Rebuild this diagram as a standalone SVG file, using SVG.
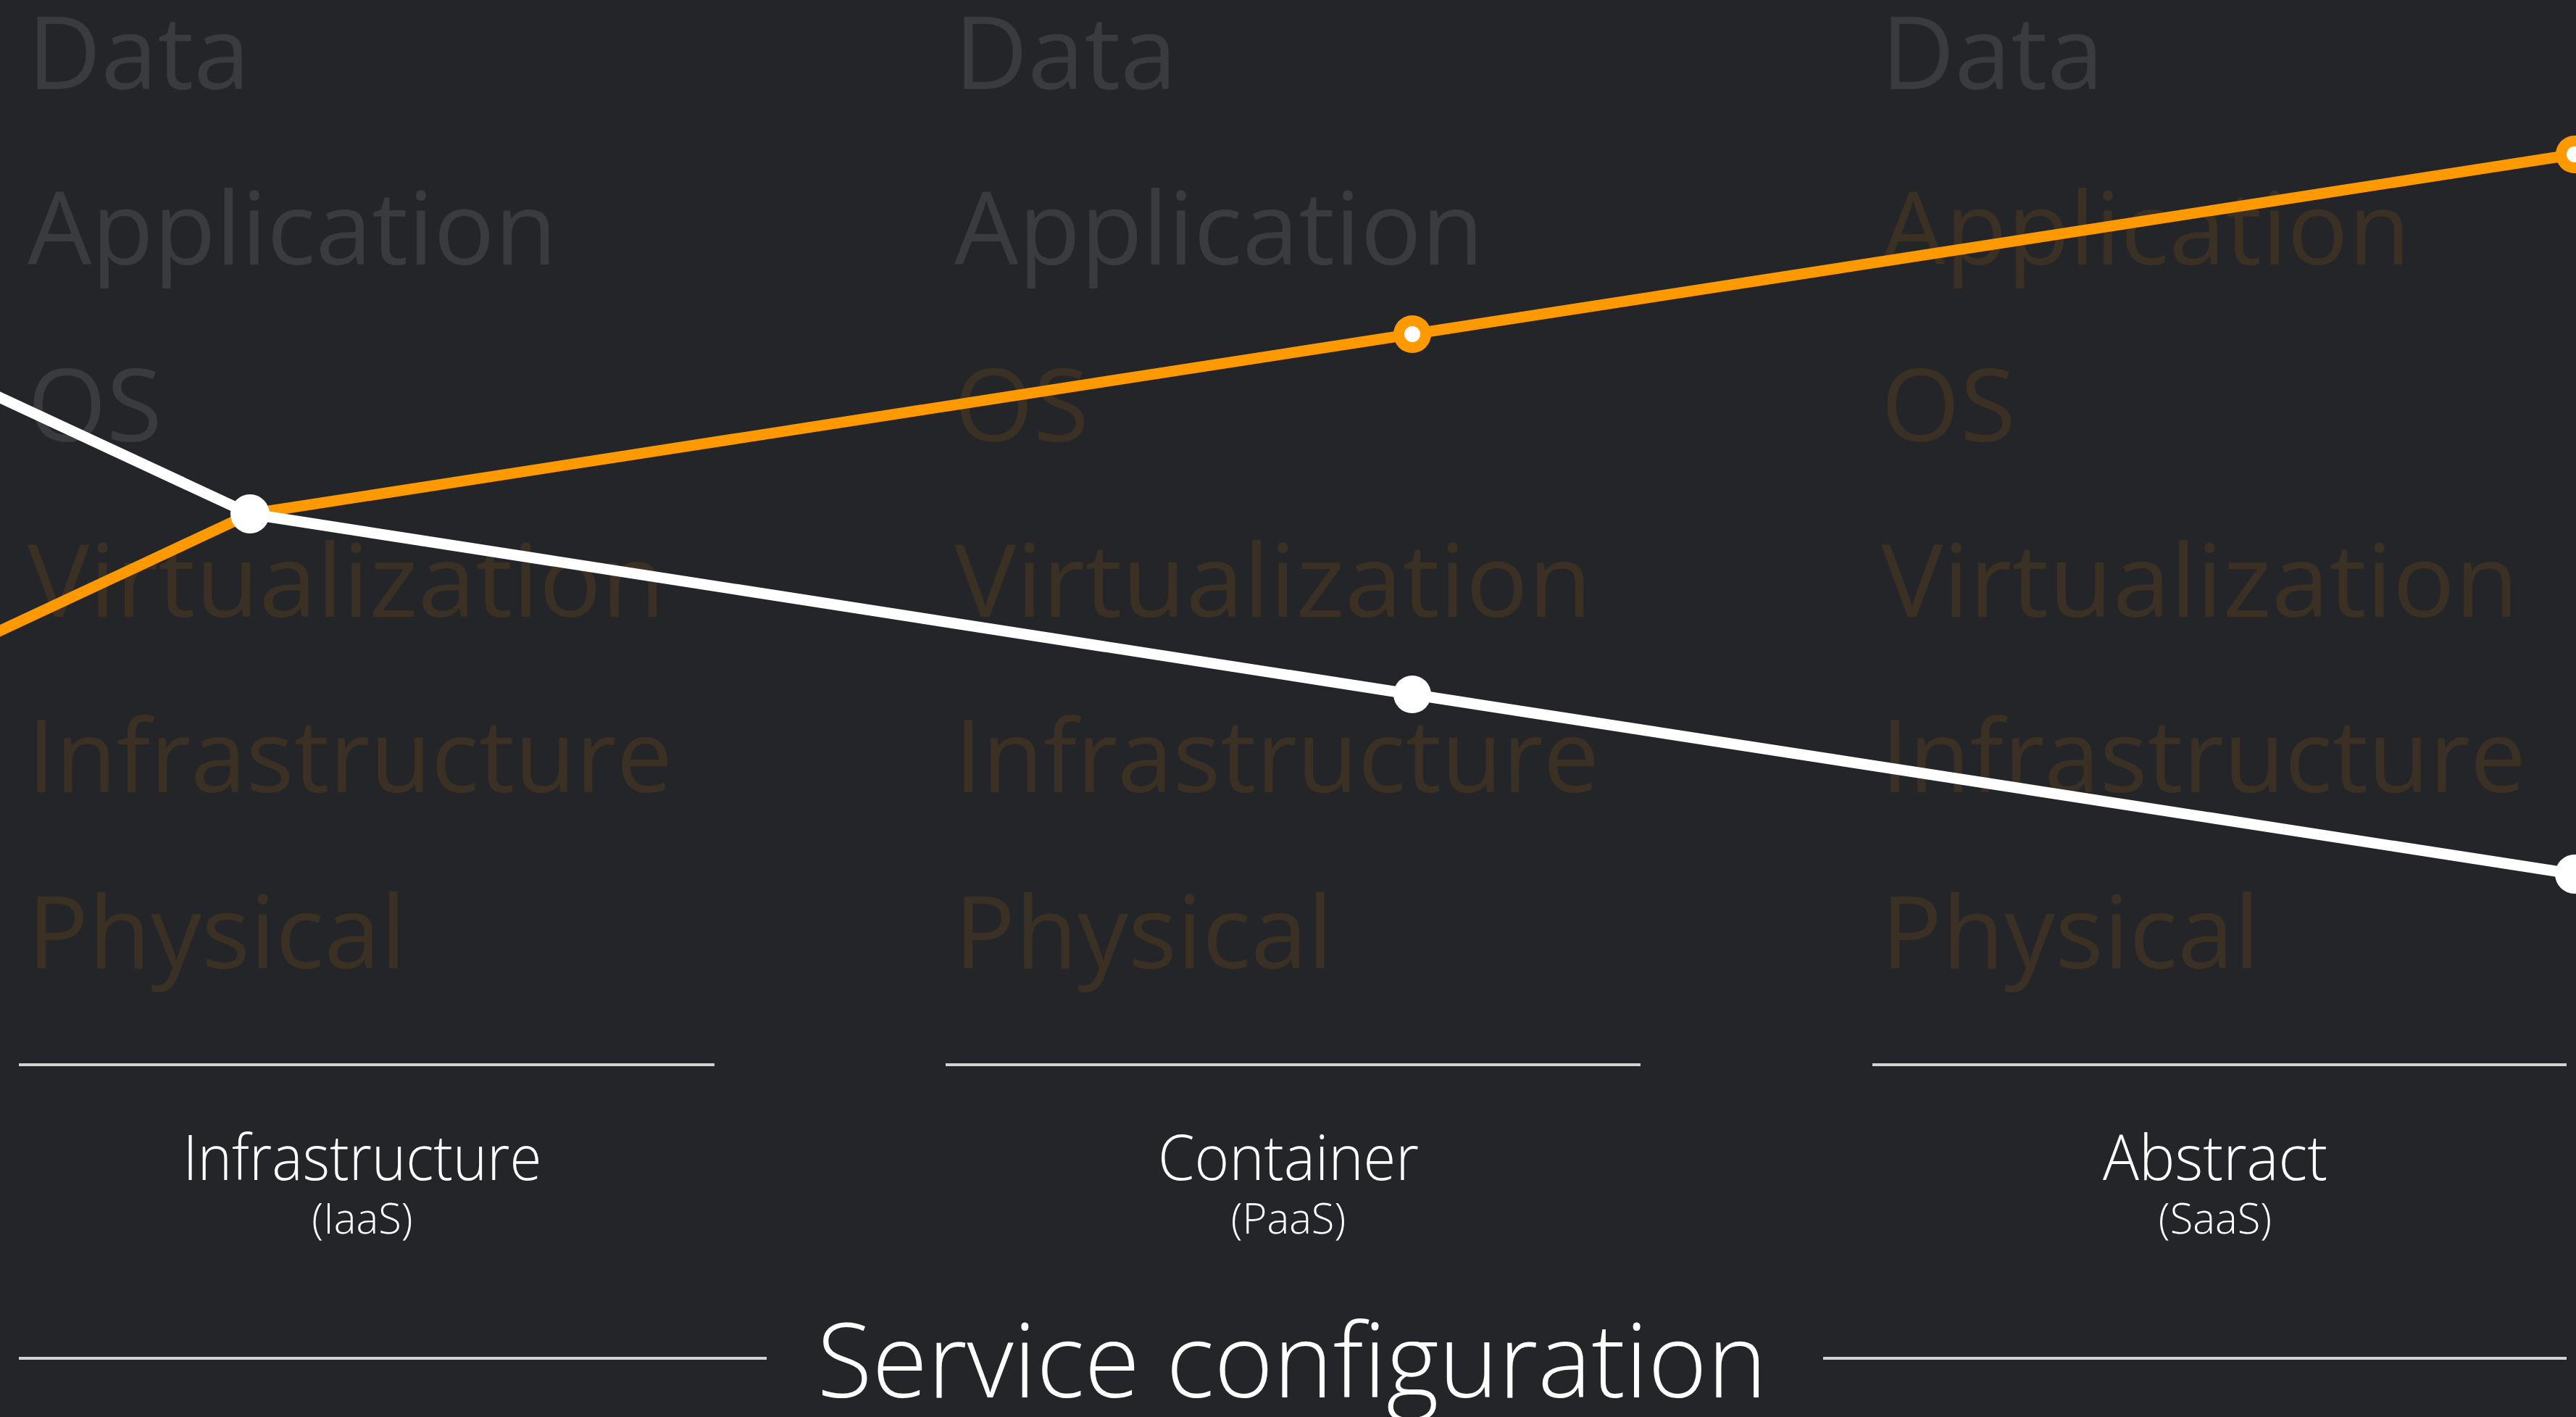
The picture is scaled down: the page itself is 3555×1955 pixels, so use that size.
<svg xmlns="http://www.w3.org/2000/svg" width="3555" height="1955" viewBox="0 0 3555 1955">
<style>
.bg{fill:#242528}
.layer{font-family:"Open Sans","Noto Sans",sans-serif;font-size:140px}
.g{fill:#3a3b3e}
.b{fill:#3b3024}
.rule{stroke:#d2d2d2;stroke-width:4}
.lbl{font-family:"Open Sans","Noto Sans",sans-serif;font-weight:300;fill:#ffffff;text-anchor:middle}
.main{font-size:86px}
.sub{font-size:58px}
.title{font-size:142px}
.wline{fill:none;stroke:#ffffff;stroke-width:15;stroke-linejoin:round}
.oline{fill:none;stroke:#ff9900;stroke-width:15;stroke-linejoin:round}
</style>
<rect class="bg" x="0" y="0" width="3555" height="1955"/>

<g id="col-iaas">
  <text class="layer g" x="38" y="123">Data</text>
  <text class="layer g" x="38" y="365">Application</text>
  <text class="layer g" x="38" y="609">OS</text>
  <text class="layer b" x="38" y="851" textLength="880" lengthAdjust="spacingAndGlyphs">Virtualization</text>
  <text class="layer b" x="38" y="1093" textLength="890" lengthAdjust="spacingAndGlyphs">Infrastructure</text>
  <text class="layer b" x="38" y="1336">Physical</text>
  <line class="rule" x1="26" y1="1469" x2="986" y2="1469"/>
  <text class="lbl main" x="500" y="1628" textLength="495" lengthAdjust="spacingAndGlyphs">Infrastructure</text>
  <text class="lbl sub" x="500" y="1702">(IaaS)</text>
</g>

<g id="col-paas">
  <text class="layer g" x="1317" y="123">Data</text>
  <text class="layer g" x="1317" y="365">Application</text>
  <text class="layer b" x="1317" y="609">OS</text>
  <text class="layer b" x="1317" y="851" textLength="880" lengthAdjust="spacingAndGlyphs">Virtualization</text>
  <text class="layer b" x="1317" y="1093" textLength="890" lengthAdjust="spacingAndGlyphs">Infrastructure</text>
  <text class="layer b" x="1317" y="1336">Physical</text>
  <line class="rule" x1="1305" y1="1469" x2="2264" y2="1469"/>
  <text class="lbl main" x="1778" y="1628" textLength="360" lengthAdjust="spacingAndGlyphs">Container</text>
  <text class="lbl sub" x="1778" y="1702">(PaaS)</text>
</g>

<g id="col-saas">
  <text class="layer g" x="2596" y="123">Data</text>
  <text class="layer b" x="2596" y="365">Application</text>
  <text class="layer b" x="2596" y="609">OS</text>
  <text class="layer b" x="2596" y="851" textLength="880" lengthAdjust="spacingAndGlyphs">Virtualization</text>
  <text class="layer b" x="2596" y="1093" textLength="890" lengthAdjust="spacingAndGlyphs">Infrastructure</text>
  <text class="layer b" x="2596" y="1336">Physical</text>
  <line class="rule" x1="2584" y1="1469" x2="3542" y2="1469"/>
  <text class="lbl main" x="3057" y="1628" textLength="310" lengthAdjust="spacingAndGlyphs">Abstract</text>
  <text class="lbl sub" x="3057" y="1702">(SaaS)</text>
</g>

<g id="axis-title">
  <line class="rule" x1="26" y1="1874" x2="1058" y2="1874"/>
  <line class="rule" x1="2516" y1="1874" x2="3542" y2="1874"/>
  <text class="lbl title" x="1783" y="1928" textLength="1311" lengthAdjust="spacingAndGlyphs">Service configuration</text>
</g>

<g id="connectors">
  <polyline class="oline" points="-40,889 345,709 1949,461 3553,213"/>
  <polyline class="wline" points="-40,530 345,709 1949,958 3553,1206"/>
</g>

<g id="point-orange-paas">
  <circle cx="1949" cy="461" r="26" fill="#ff9900"/>
  <circle cx="1949" cy="461" r="11" fill="#ffffff"/>
</g>
<g id="point-orange-saas">
  <circle cx="3553" cy="213" r="26" fill="#ff9900"/>
  <circle cx="3553" cy="213" r="11" fill="#ffffff"/>
</g>
<g id="point-white-iaas">
  <circle cx="345" cy="709" r="27" fill="#ffffff"/>
</g>
<g id="point-white-paas">
  <circle cx="1949" cy="958" r="26" fill="#ffffff"/>
</g>
<g id="point-white-saas">
  <circle cx="3553" cy="1206" r="27" fill="#ffffff"/>
</g>
</svg>
